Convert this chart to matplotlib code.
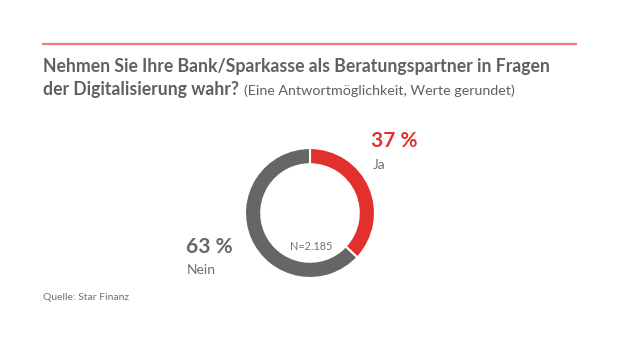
import matplotlib.pyplot as plt

plt.rcParams['font.family'] = ['Lato', 'DejaVu Sans']

# Antworten und Anteile (Prozent, gerundet)
antworten = ["Ja", "Nein"]
anteile = [37, 63]
farben = ["#e2312d", "#666666"]
n_befragte = "2.185"

titel_1 = "Nehmen Sie Ihre Bank/Sparkasse als Beratungspartner in Fragen"
titel_2 = "der Digitalisierung wahr?"
untertitel = "(Eine Antwortmöglichkeit, Werte gerundet)"
quelle = "Quelle: Star Finanz"

W, H = 620, 348
fig = plt.figure(figsize=(W / 100, H / 100), dpi=100)
fig.patch.set_facecolor("white")

def fx(px):
    return px / W

def fy(py):
    return 1 - py / H

# Linie oben
fig.add_artist(plt.Line2D([fx(43), fx(576)], [fy(44), fy(44)],
                          color="#ef7d76", linewidth=1.6))

# Titel (zweite Zeile: fetter Teil + normaler Zusatz)
grau = "#606060"
fig.text(fx(43), fy(72), titel_1, fontsize=12.7, fontweight="bold",
         color=grau, va="baseline", ha="left")
t2 = fig.text(fx(43), fy(95), titel_2, fontsize=12.7, fontweight="bold",
              color=grau, va="baseline", ha="left")
fig.canvas.draw()
x_ende = t2.get_window_extent().x1
fig.text((x_ende + 5) / W, fy(95), untertitel, fontsize=10.3, color=grau,
         va="baseline", ha="left")

# Ring
cx, cy, r = 310, 213, 65
ax = fig.add_axes([fx(cx - r), fy(cy + r), 2 * r / W, 2 * r / H])
ax.pie(anteile, colors=farben, startangle=90, counterclock=False,
       wedgeprops=dict(width=0.25, edgecolor="white", linewidth=1.5))
ax.set_xlim(-1, 1)
ax.set_ylim(-1, 1)
ax.set_aspect("equal")
ax.axis("off")

fig.text(fx(311), fy(247), f"N={n_befragte}", fontsize=7.8, color="#707070",
         ha="center", va="center")

# Beschriftungen
fig.text(fx(371), fy(141), f"{anteile[0]} %", fontsize=15, fontweight="bold",
         color=farben[0], ha="left", va="center")
fig.text(fx(373), fy(165), antworten[0], fontsize=10, color="#707070",
         ha="left", va="center")
fig.text(fx(186), fy(247), f"{anteile[1]} %", fontsize=15, fontweight="bold",
         color=farben[1], ha="left", va="center")
fig.text(fx(187), fy(270), antworten[1], fontsize=10, color="#707070",
         ha="left", va="center")

fig.text(fx(43), fy(298), quelle, fontsize=7.5, color="#707070",
         ha="left", va="center")

fig.savefig("out.png", dpi=100, facecolor=fig.get_facecolor())
